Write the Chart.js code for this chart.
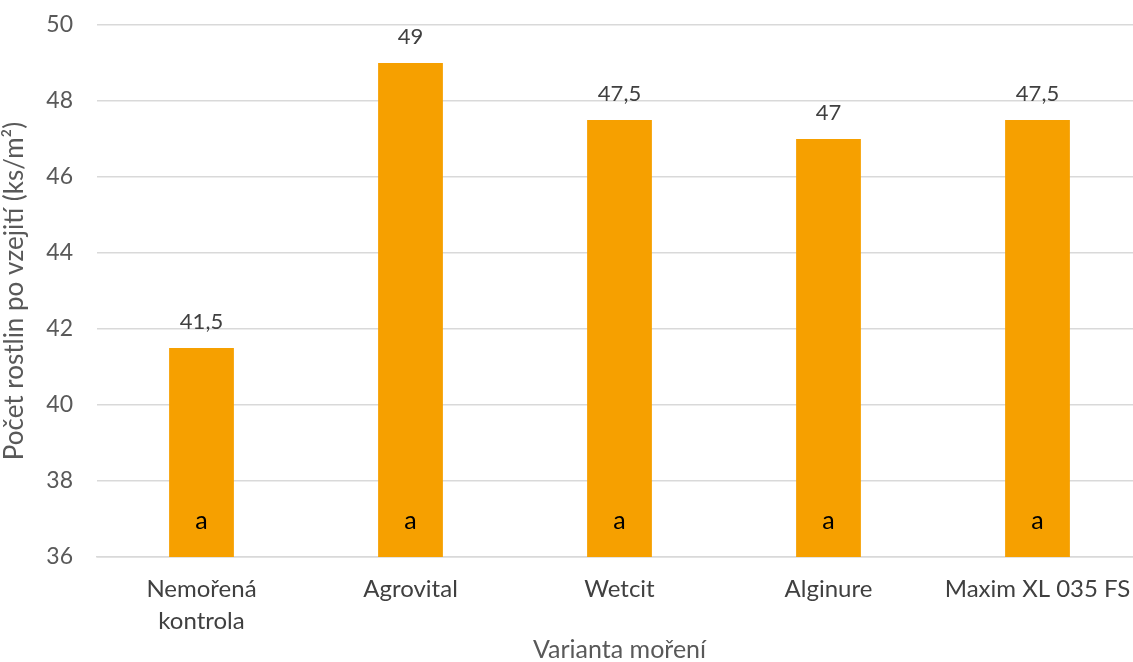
<!DOCTYPE html>
<html>
<head>
<meta charset="utf-8">
<script src="https://cdn.jsdelivr.net/npm/chart.js@4"></script>
<style>
  html, body { margin: 0; padding: 0; background: #fff; overflow: hidden; }
  #wrap { width: 1142px; height: 662px; }
</style>
</head>
<body>
<div id="wrap"><canvas id="myChart"></canvas></div>
<script>
var categories = [["Nemořená", "kontrola"], "Agrovital", "Wetcit", "Alginure", "Maxim XL 035 FS"];
var values = [41.5, 49, 47.5, 47, 47.5];
var letters = ["a", "a", "a", "a", "a"];
var yTicks = [36, 38, 40, 42, 44, 46, 48, 50];

var FONT = "Lato, 'Open Sans', sans-serif";

// value labels above the bars and significance letters inside
var barLabels = {
  id: "barLabels",
  afterDatasetsDraw: function (chart) {
    var c = chart.ctx;
    var meta = chart.getDatasetMeta(0);
    var yScale = chart.scales.y;
    c.save();
    c.textAlign = "center";
    c.textBaseline = "alphabetic";
    meta.data.forEach(function (bar, i) {
      c.font = "22px " + FONT;
      c.fillStyle = "#404040";
      c.fillText(String(values[i]).replace(".", ","), bar.x, bar.y - 19);
      c.font = "25px " + FONT;
      c.fillStyle = "#000";
      c.fillText(letters[i], bar.x, yScale.getPixelForValue(36.75));
    });
    c.restore();
  }
};

var ctx = document.getElementById("myChart");

var data = {
  labels: categories,
  datasets: [
    {
      label: "Počet rostlin",
      data: values,
      backgroundColor: "#F6A000",
      borderWidth: 0,
      barPercentage: 0.62,
      categoryPercentage: 0.5
    }
  ]
};

var options = {
  responsive: true,
  maintainAspectRatio: false,
  animation: false,
  layout: { padding: { top: 25, right: 0, left: 0, bottom: 0 } },
  plugins: {
    legend: { display: false },
    tooltip: { enabled: false }
  },
  scales: {
    y: {
      min: 36,
      max: 50,
      afterBuildTicks: function (scale) {
        scale.ticks = yTicks.map(function (v) { return { value: v }; });
      },
      afterFit: function (scale) {
        scale.width = 97;
        scale.paddingTop = 0;
        scale.paddingBottom = 0;
      },
      grid: { color: "#d9d9d9", lineWidth: 1.5, drawTicks: false },
      border: { display: false },
      ticks: {
        padding: 24,
        color: "#595959",
        font: { family: FONT, size: 23 }
      },
      title: {
        display: true,
        text: "Počet rostlin po vzejití (ks/m²)",
        color: "#595959",
        font: { family: FONT, size: 26, lineHeight: 1.1 },
        padding: { top: 0, bottom: 0 }
      }
    },
    x: {
      afterFit: function (scale) {
        scale.height = 105;
        scale.paddingLeft = 0;
        scale.paddingRight = 0;
      },
      grid: { display: false },
      border: { color: "#d9d9d9", width: 1.5 },
      ticks: {
        padding: 9,
        color: "#404040",
        maxRotation: 0,
        font: { family: FONT, size: 24, lineHeight: 1.3 }
      },
      title: {
        display: true,
        text: "Varianta moření",
        color: "#595959",
        font: { family: FONT, size: 25, lineHeight: 1 },
        padding: { top: 2, bottom: 0 }
      }
    }
  }
};

var chart = new Chart(ctx, {
  type: "bar",
  data: data,
  options: options,
  plugins: [barLabels]
});
</script>
</body>
</html>
